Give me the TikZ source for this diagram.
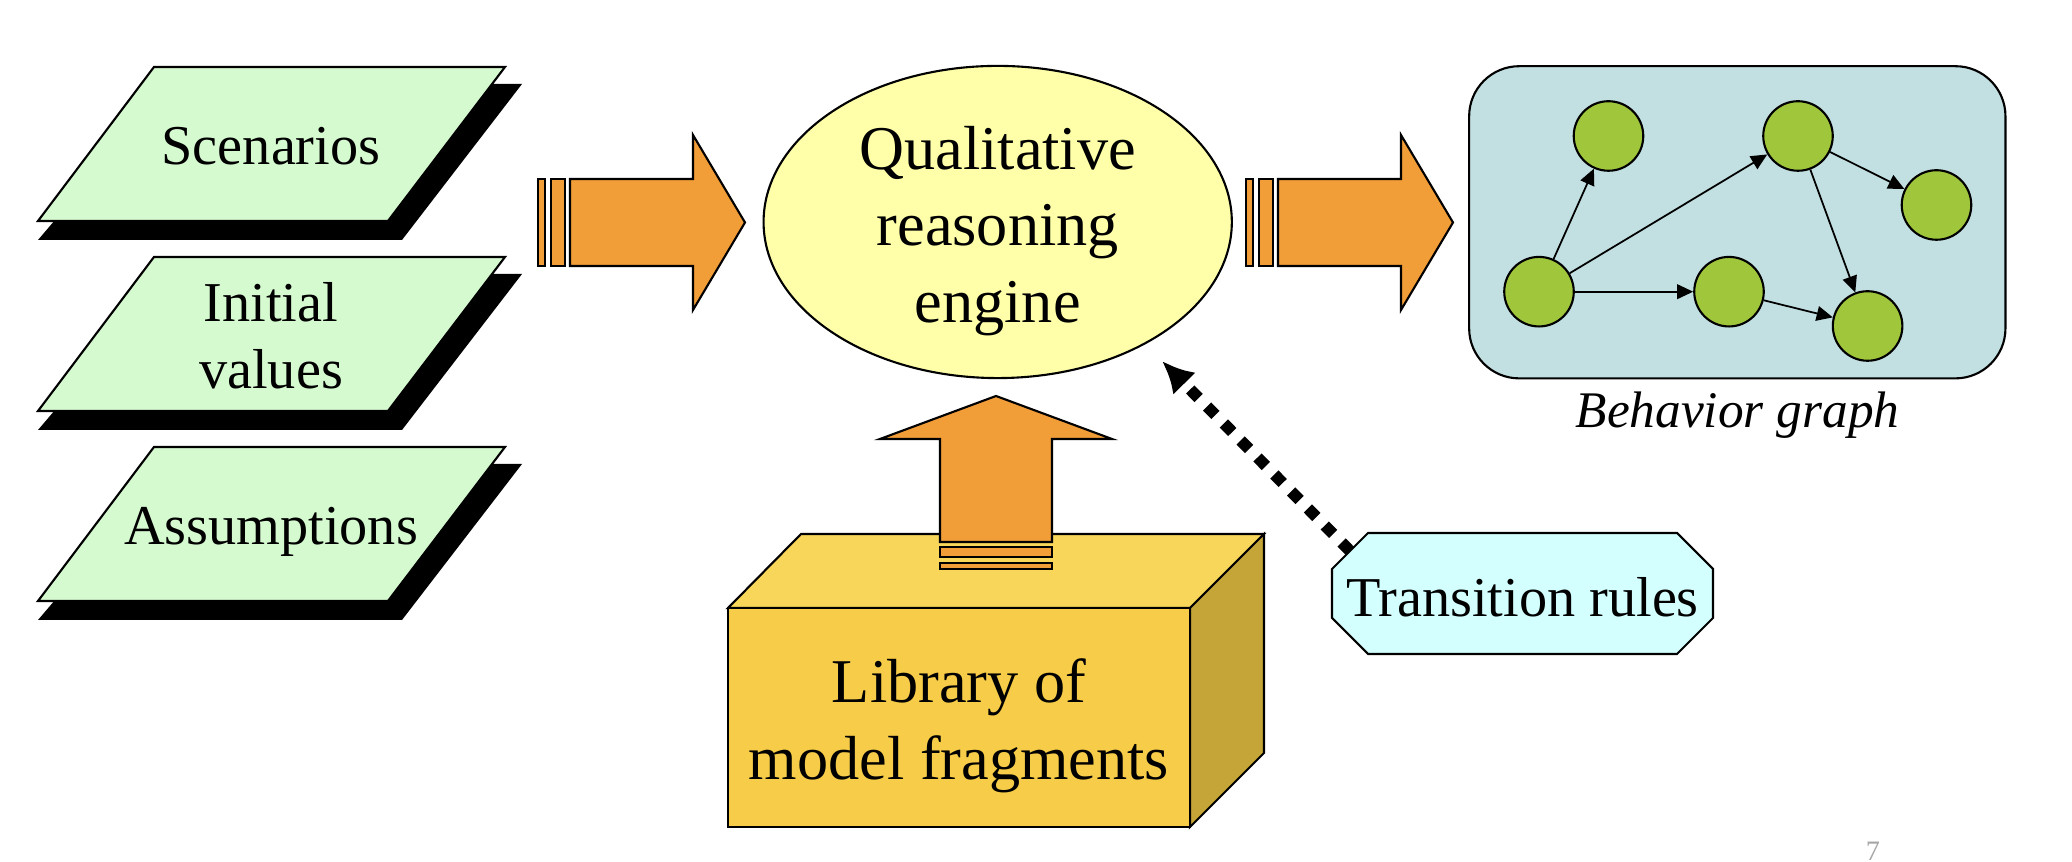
\documentclass[tikz,border=0pt]{standalone}
\usepackage{fontspec}
\setmainfont{Liberation Serif}
\usetikzlibrary{arrows.meta,shapes.geometric,calc}
\definecolor{pgreen}{RGB}{214,250,208}
\definecolor{aorange}{RGB}{241,157,56}
\definecolor{eyellow}{RGB}{255,255,170}
\definecolor{gbg}{RGB}{194,224,226}
\definecolor{gnode}{RGB}{160,198,60}
\definecolor{boxfront}{RGB}{246,204,72}
\definecolor{boxtop}{RGB}{248,214,90}
\definecolor{boxside}{RGB}{198,165,56}
\definecolor{tcyan}{RGB}{212,255,255}
\begin{document}
\begin{tikzpicture}[x=0.01cm,y=-0.01cm,
  outl/.style={draw=black,line width=0.6pt,line join=miter},
  para/.style={outl,fill=pgreen},
  shad/.style={fill=black},
  blockarrow/.style={outl,fill=aorange},
  txtA/.style={font=\fontsize{16}{19}\selectfont,align=center,inner sep=0pt},
  txtB/.style={font=\fontsize{17.7}{21.8}\selectfont,align=center,inner sep=0pt},
  gnodestyle/.style={circle,outl,fill=gnode,minimum size=0.695cm,inner sep=0pt},
  gedge/.style={line width=0.5pt,-{Triangle[length=4.6pt,width=4.2pt]}}]
\useasboundingbox (0,0) rectangle (2072,862);

% ---- input parallelograms ----
\fill[shad] (38,240) -- (402,240) -- (522,84) -- (171,84) -- cycle;
\path[para] (154,67) -- (505,67) -- (388,221) -- (38,221) -- cycle;
\node[txtA] (scen) at (271,146) {Scenarios};

\fill[shad] (38,430) -- (402,430) -- (522,274) -- (171,274) -- cycle;
\path[para] (154,257) -- (505,257) -- (388,411) -- (38,411) -- cycle;
\node[txtA] (init) at (271,336) {Initial\\values};

\fill[shad] (38,620) -- (402,620) -- (522,464) -- (171,464) -- cycle;
\path[para] (154,447) -- (505,447) -- (388,601) -- (38,601) -- cycle;
\node[txtA] (assum) at (271,532) {Assumptions};

% ---- left block arrow ----
\path[blockarrow] (538,179) rectangle (545,266);
\path[blockarrow] (551,179) rectangle (565,266);
\path[blockarrow] (570,179) -- (693,179) -- (693,135) -- (745,222.5) -- (693,310) -- (693,266) -- (570,266) -- cycle;

% ---- engine ----
\node[ellipse,outl,fill=eyellow,minimum width=4.68cm,minimum height=3.12cm,inner sep=0pt] (engine) at (997.7,222) {};
\node[txtB] (enginetxt) at (997.7,231) {Qualitative\\reasoning\\engine};

% ---- right block arrow ----
\path[blockarrow] (1246,179) rectangle (1253,266);
\path[blockarrow] (1259,179) rectangle (1273,266);
\path[blockarrow] (1278,179) -- (1401,179) -- (1401,135) -- (1453,222.5) -- (1401,310) -- (1401,266) -- (1278,266) -- cycle;

% ---- behavior graph ----
\node[outl,fill=gbg,rounded corners=0.5cm,minimum width=5.36cm,minimum height=3.12cm,inner sep=0pt] (bg) at (1737.3,222.3) {};
\node[gnodestyle] (g1) at (1608.5,136) {};
\node[gnodestyle] (g2) at (1798,136) {};
\node[gnodestyle] (g3) at (1936.5,205) {};
\node[gnodestyle] (g4) at (1539,291.7) {};
\node[gnodestyle] (g5) at (1729,291.7) {};
\node[gnodestyle] (g6) at (1867.6,326) {};
\draw[gedge] (g4) -- (g1);
\draw[gedge] (g4) -- (g2);
\draw[gedge] (g4) -- (g5);
\draw[gedge] (g2) -- (g3);
\draw[gedge] (g2) -- (g6);
\draw[gedge] (g5) -- (g6);
\node[anchor=base,font=\fontsize{14.6}{16}\itshape,inner sep=0pt] (cap) at (1737.5,428) {Behavior graph};

% ---- library box ----
\path[outl,fill=boxtop] (728,608) -- (801,534) -- (1264,534) -- (1190,608) -- cycle;
\path[outl,fill=boxside] (1190,608) -- (1264,534) -- (1264,753) -- (1190,827) -- cycle;
\path[outl,fill=boxfront] (728,608) rectangle (1190,827);
\node[txtB] (lib) at (959,726) {Library of\\model fragments};

% ---- up block arrow ----
\path[blockarrow] (940,542) -- (940,439) -- (880,439) -- (996,396) -- (1112,439) -- (1052,439) -- (1052,542) -- cycle;
\path[blockarrow] (940,547) rectangle (1052,557);
\path[blockarrow] (940,563) rectangle (1052,569);

% ---- transition rules ----
\path[outl,fill=tcyan] (1368,533) -- (1677,533) -- (1713,569) -- (1713,618) -- (1677,654) -- (1368,654) -- (1332,618) -- (1332,569) -- cycle;
\node[txtA] (trans) at (1522.5,597) {Transition rules};
\coordinate (tstart) at (1350,551);
\coordinate (dtip) at (1162,361);
\draw[line width=3.3pt,dash pattern=on 3.4pt off 3.4pt,-{Latex[length=9pt,width=9pt]}] (tstart) -- (dtip);

% ---- page number ----
\node[anchor=south,inner sep=0pt,text=black!35,font=\fontsize{8}{8}\selectfont] (pnum) at (1873,861) {7};
\end{tikzpicture}
\end{document}
